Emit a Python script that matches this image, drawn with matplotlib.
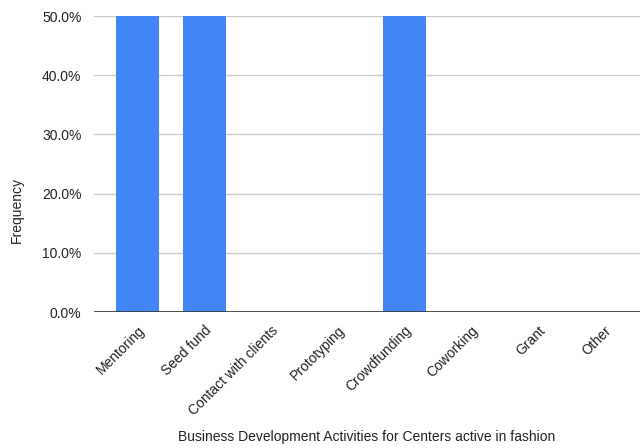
import matplotlib.pyplot as plt
from matplotlib.ticker import PercentFormatter

plt.rcParams['font.family'] = ['Liberation Sans', 'DejaVu Sans']

# Activities and their share among centers
activities = ['Mentoring', 'Seed fund', 'Contact with clients', 'Prototyping',
              'Crowdfunding', 'Coworking', 'Grant', 'Other']
frequency = [0.5, 0.5, 0.0, 0.0, 0.5, 0.0, 0.0, 0.0]
y_ticks = [0.0, 0.1, 0.2, 0.3, 0.4, 0.5]

fig = plt.figure(figsize=(6.42, 4.48), dpi=100)
ax = fig.add_axes([94/642, 1 - 312/448, 546/642, 296/448])

x = range(len(activities))
ax.bar(x, frequency, width=0.645, color='#4285f4', zorder=3)

ax.set_xlim(-0.65, 7.53)
ax.set_ylim(0, 0.5)
ax.set_yticks(y_ticks)
ax.yaxis.set_major_formatter(PercentFormatter(1.0, decimals=1))
ax.grid(axis='y', color='#cccccc', linewidth=1, zorder=0)
ax.axhline(0, color='#333333', linewidth=1.2, zorder=4)

for s in ax.spines.values():
    s.set_visible(False)
ax.tick_params(axis='both', length=0, labelsize=10, colors='#222222')
ax.tick_params(axis='y', pad=9)

ax.set_xticks(list(x))
ax.set_xticklabels(activities, rotation=45, ha='right', va='top',
                   rotation_mode='anchor')
ax.tick_params(axis='x', pad=8)

# axis titles sit outside the tick labels
fig.text(17/642, 1 - 210/448, 'Frequency', rotation=90,
         ha='center', va='center', fontsize=10, color='#222222')
fig.text(367/642, 1 - 437/448, 'Business Development Activities for Centers active in fashion',
         ha='center', va='center', fontsize=10, color='#222222')

fig.savefig('out.png', dpi=100)
